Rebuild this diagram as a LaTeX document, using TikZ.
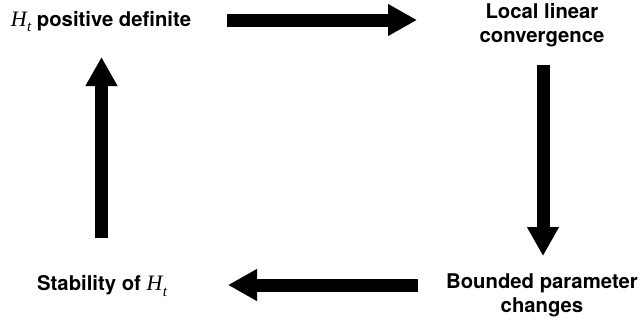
\documentclass[tikz,border=0pt]{standalone}
\usepackage{fontspec}
\setmainfont{TeX Gyre Heros}
\newfontfamily\tms{Liberation Serif}
\usetikzlibrary{arrows.meta}
\newcommand{\Hsub}{{\tms\mdseries\itshape\fontsize{22}{22}\selectfont H\kern0.3pt\raisebox{-0.25em}{\fontsize{15}{15}\selectfont t}}}
\tikzset{
  lbl/.style={font=\bfseries\fontsize{20.3}{24}\selectfont, align=center, inner sep=0pt},
  bigarrow/.style={line width=13pt, -{Triangle[length=29pt, width=30pt]}}
}
\begin{document}
\begin{tikzpicture}[x=1pt, y=-1pt]
  \useasboundingbox (0,0) rectangle (641,322);
  % the four statements of the cycle
  \node[lbl] (pd)   at (101,21.5) {\Hsub\ positive definite};
  \node[lbl] (conv) at (542,25)   {Local linear\\convergence};
  \node[lbl] (bnd)  at (542,295)  {Bounded parameter\\changes};
  \node[lbl] (stab) at (102,286)  {Stability of \Hsub};
  % arrow end points
  \coordinate (a1s) at (227,20);    \coordinate (a1e) at (417,20);
  \coordinate (a2s) at (543,65);    \coordinate (a2e) at (543,256);
  \coordinate (a3s) at (418,285);   \coordinate (a3e) at (228,285);
  \coordinate (a4s) at (101.5,238); \coordinate (a4e) at (101.5,57);
  % thick arrows closing the loop
  \draw[bigarrow] (a1s) -- (a1e);
  \draw[bigarrow] (a2s) -- (a2e);
  \draw[bigarrow] (a3s) -- (a3e);
  \draw[bigarrow] (a4s) -- (a4e);
\end{tikzpicture}
\end{document}
